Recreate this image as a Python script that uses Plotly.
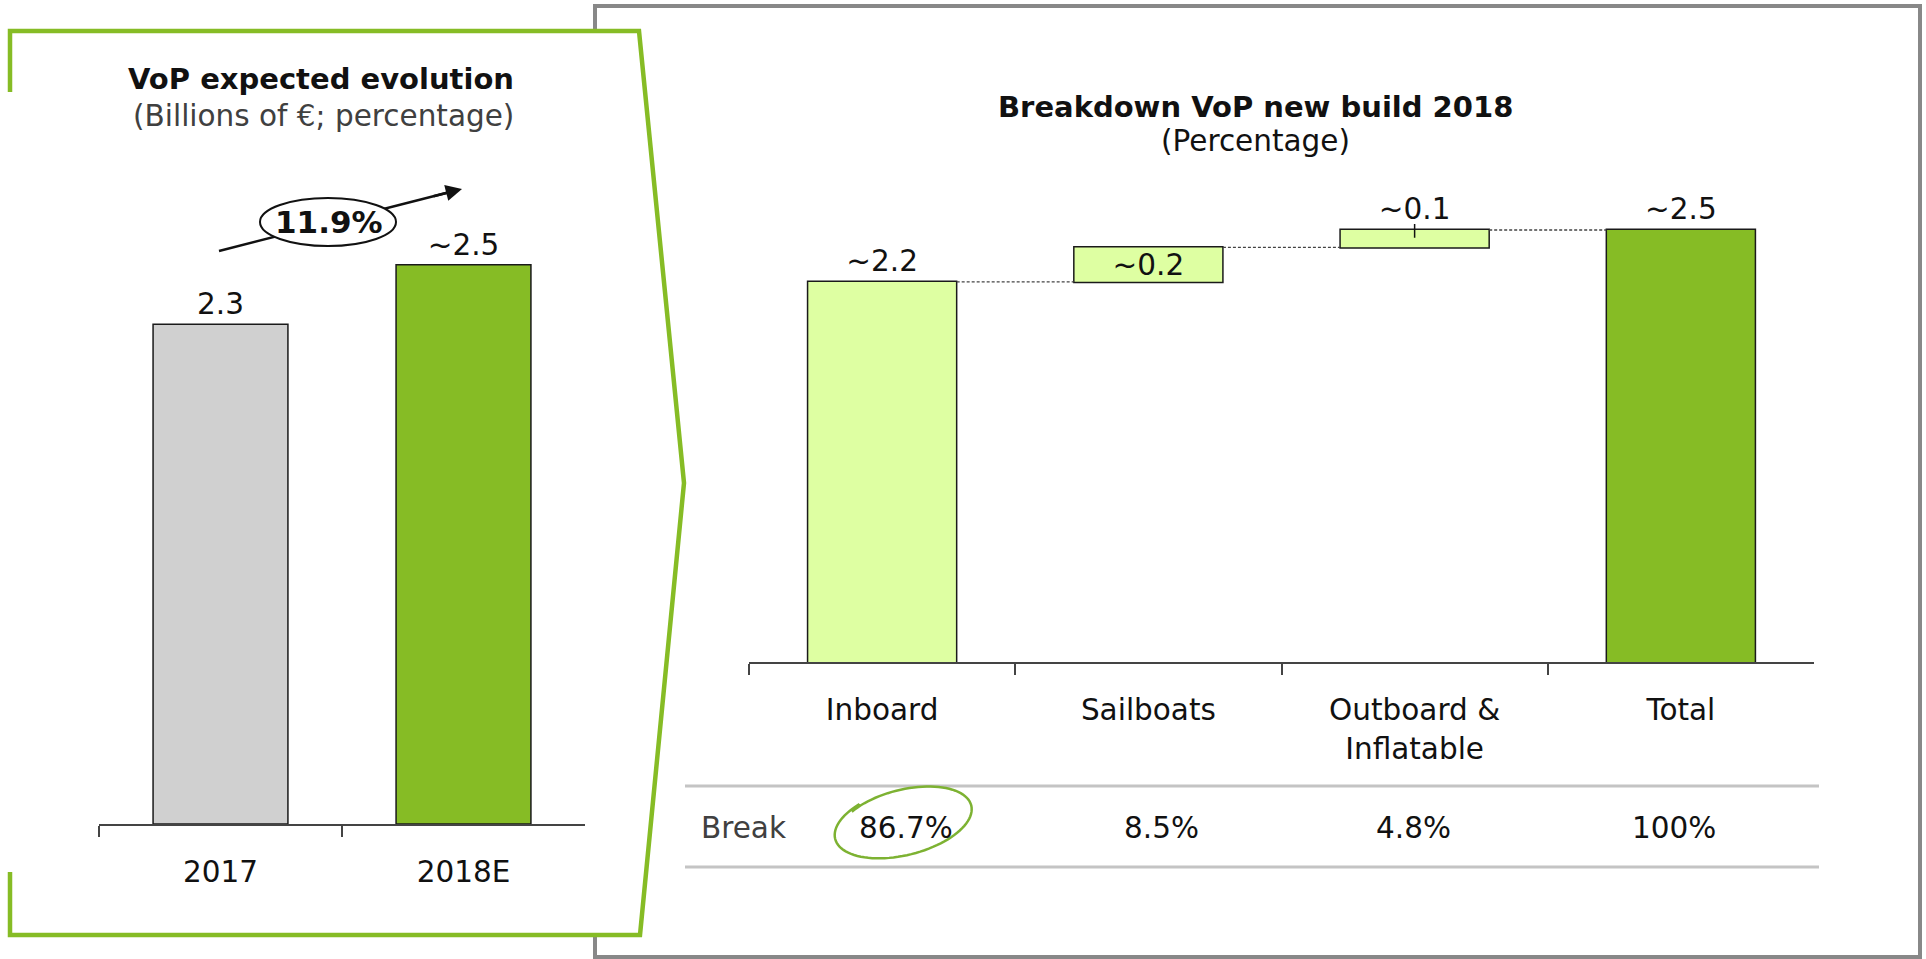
import numpy as np
import plotly.graph_objects as go

W, H = 1926, 959

# ---------------- data ----------------
# left chart: VoP expected evolution
years = ["2017", "2018E"]
vop_values = [2.234, 2.5]
vop_labels = ["2.3", "~2.5"]
vop_colors = ["#D0D0D0", "#86BC25"]
growth_label = "11.9%"

# right chart: breakdown VoP new build 2018
segments = ["Inboard", "Sailboats", "Outboard &<br>Inflatable", "Total"]
segment_values = [2.2, 0.2, 0.1, 2.5]
segment_measures = ["relative", "relative", "relative", "total"]
segment_labels = ["~2.2", "~0.2", "~0.1", "~2.5"]
segment_textpos = ["outside", "inside", "outside", "outside"]

# table row under the waterfall
share_row_label = "Break"
shares = ["86.7%", "8.5%", "4.8%", "100%"]

FONT = "DejaVu Sans"
GREEN = "#86BC25"
LIGHT = "#DEFFA2"
FS = 29.5
FSB = 29


def px(x):
    return x / W


def py(y):
    return 1 - y / H


fig = go.Figure()

# left bars
fig.add_trace(go.Bar(
    x=years, y=vop_values, xaxis="x", yaxis="y",
    marker=dict(color=vop_colors, line=dict(color="#1a1a1a", width=1.5)),
    width=0.555,
    text=vop_labels, textposition="outside", cliponaxis=False,
    textfont=dict(size=FS, color="#111111", family=FONT),
    hoverinfo="skip",
))

# waterfall
fig.add_trace(go.Waterfall(
    x=segments, y=segment_values, measure=segment_measures,
    xaxis="x2", yaxis="y2",
    width=0.56,
    text=segment_labels, textposition=segment_textpos, constraintext="none",
    insidetextanchor="middle",
    textfont=dict(size=FS, color="#111111", family=FONT),
    cliponaxis=False,
    increasing=dict(marker=dict(color=LIGHT, line=dict(color="#1a1a1a", width=1.5))),
    decreasing=dict(marker=dict(color=LIGHT, line=dict(color="#1a1a1a", width=1.5))),
    totals=dict(marker=dict(color=GREEN, line=dict(color="#1a1a1a", width=1.5))),
    connector=dict(mode="between", line=dict(color="#444444", width=1.3, dash="3px,2px")),
    hoverinfo="skip",
))

# small tick mark on the outboard bar (cumulative top)
cum_top = sum(segment_values[:3])
fig.add_trace(go.Scatter(
    x=[segments[2]], y=[cum_top - 0.005], xaxis="x2", yaxis="y2",
    mode="markers", marker=dict(size=0.1, color="rgba(0,0,0,0)"),
    error_y=dict(type="constant", value=0.04, width=0, thickness=1.5, color="#111111"),
    hoverinfo="skip", cliponaxis=False,
))

shapes = []
# grey frame of the right panel
shapes.append(dict(type="rect", xref="paper", yref="paper",
                   x0=px(595), x1=px(1920), y0=py(957), y1=py(6),
                   line=dict(color="#888888", width=4), fillcolor="rgba(0,0,0,0)", layer="below"))
# green panel frame (white-filled, covers grey frame)
frame_fill = "M {},{} L {},{} L {},{} L {},{} L {},{} Z".format(
    px(10), py(31), px(639), py(31), px(684), py(483), px(640), py(935), px(10), py(935))
shapes.append(dict(type="path", xref="paper", yref="paper", path=frame_fill,
                   fillcolor="white", line=dict(width=0), layer="below"))
frame_line = "M {},{} L {},{} L {},{} L {},{} L {},{} L {},{} L {},{}".format(
    px(10), py(92), px(10), py(31), px(639), py(31), px(684), py(483),
    px(640), py(935), px(10), py(935), px(10), py(872))
shapes.append(dict(type="path", xref="paper", yref="paper", path=frame_line,
                   line=dict(color=GREEN, width=4.5), layer="below"))

# growth arrow line
shapes.append(dict(type="line", xref="paper", yref="paper",
                   x0=px(219), y0=py(251), x1=px(452), y1=py(191.5),
                   line=dict(color="#111111", width=2.5), layer="above"))
# oval
shapes.append(dict(type="circle", xref="paper", yref="paper",
                   x0=px(260), x1=px(396), y0=py(246), y1=py(198),
                   line=dict(color="#111111", width=2), fillcolor="white", layer="above"))

# table lines
for yy in (786, 867):
    shapes.append(dict(type="line", xref="paper", yref="paper",
                       x0=px(685), x1=px(1819), y0=py(yy), y1=py(yy),
                       line=dict(color="#C4C4C4", width=3)))

# hand drawn ellipse around first share
cx, cy, a, b, rot = 904, 822, 68, 32, np.deg2rad(-14)
t = np.linspace(np.deg2rad(225), np.deg2rad(225 + 372), 100)
grow = 1 + 0.05 * (t - t[0]) / (t[-1] - t[0])
ex = cx + a * grow * np.cos(t) * np.cos(rot) - b * grow * np.sin(t) * np.sin(rot)
ey = cy + a * grow * np.cos(t) * np.sin(rot) + b * grow * np.sin(t) * np.cos(rot)
ell = "M " + " L ".join("{:.5f},{:.5f}".format(px(x), py(y)) for x, y in zip(ex, ey))
shapes.append(dict(type="path", xref="paper", yref="paper", path=ell,
                   line=dict(color="#7DB232", width=2.5), layer="above"))

annotations = []


def note(x, y, text, size=FS, color="#111111"):
    annotations.append(dict(xref="paper", yref="paper", x=px(x), y=py(y), text=text,
                            xanchor="center", yanchor="middle", showarrow=False,
                            font=dict(size=size, color=color, family=FONT)))


# left titles
note(321, 79, "<b>VoP expected evolution</b>", FSB)
note(323, 116, "(Billions of €; percentage)", FS, "#404040")
# right titles
note(1255, 107, "<b>Breakdown VoP new build 2018</b>", FSB)
note(1255, 141, "(Percentage)", FS)
# arrow head
annotations.append(dict(xref="paper", yref="paper", x=px(462), y=py(189), text="", showarrow=True,
                        ax=-30, ay=7.6, arrowhead=2, arrowsize=1.3, arrowwidth=2.5, arrowcolor="#111111"))
# growth label
note(329, 222, "<b>" + growth_label + "</b>", 31)
# table row
note(743, 828, share_row_label, FS, "#404040")
share_x = [906, 1161, 1413, 1674]
for sx, s in zip(share_x, shares):
    note(sx, 828, s, FS)

axis_common = dict(type="category", showline=True, linecolor="#444444", linewidth=2,
                   ticks="outside", tickson="boundaries", ticklen=11, tickwidth=1.5, tickcolor="#444444",
                   tickfont=dict(size=FS, color="#111111", family=FONT), ticklabelstandoff=21,
                   showgrid=False, zeroline=False, fixedrange=True)

fig.update_layout(
    width=W, height=H, margin=dict(l=0, r=0, t=0, b=0),
    paper_bgcolor="white", plot_bgcolor="rgba(0,0,0,0)",
    showlegend=False, font=dict(family=FONT),
    xaxis=dict(domain=[px(99), px(585)], range=[-0.5, 1.5], anchor="y", **axis_common),
    yaxis=dict(domain=[py(824), py(153)], range=[0, 3], visible=False, fixedrange=True),
    xaxis2=dict(domain=[px(749), px(1814)], range=[-0.5, 3.5], anchor="y2", **axis_common),
    yaxis2=dict(domain=[py(662), py(143.6)], range=[0, 3], visible=False, fixedrange=True),
    shapes=shapes, annotations=annotations,
)

fig.write_html("out.html", config={"displayModeBar": False},
               post_script="document.body.style.margin='0';document.body.style.overflow='hidden';")
